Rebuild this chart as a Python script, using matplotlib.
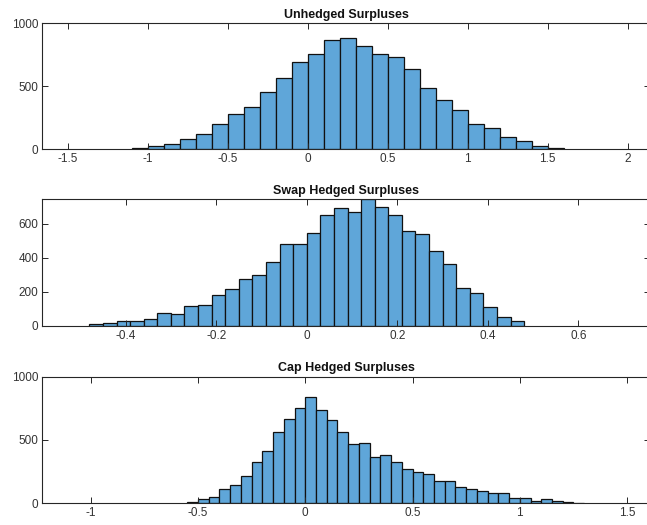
import numpy as np
import matplotlib
matplotlib.use("Agg")
import matplotlib.pyplot as plt
from matplotlib.ticker import FormatStrFormatter

plt.rcParams["font.family"] = ["Liberation Sans", "DejaVu Sans"]
plt.rcParams["axes.unicode_minus"] = False

# bin counts per panel (regular bins, first edge + width)
unhedged_start, unhedged_width = -1.1, 0.1
unhedged_counts = [11, 26, 42, 79, 119, 198, 283, 333, 455, 566, 693, 757, 865, 884,
                   817, 757, 730, 635, 489, 389, 312, 198, 172, 95, 64, 30, 8]

swap_start, swap_width = -0.48, 0.03
swap_counts = [8, 16, 28, 28, 37, 73, 69, 116, 124, 181, 216, 275, 299, 375, 484, 484,
               549, 651, 696, 671, 745, 702, 651, 559, 539, 440, 364, 224, 191, 108, 49, 28]

cap_start, cap_width = -0.55, 0.05
cap_counts = [8, 34, 50, 110, 145, 213, 323, 416, 563, 665, 752, 839, 734, 655, 563, 471,
              479, 366, 379, 323, 274, 247, 229, 179, 179, 129, 110, 95, 84, 84, 42, 42,
              18, 34, 16, 8, 6]

titles = ["Unhedged Surpluses", "Swap Hedged Surpluses", "Cap Hedged Surpluses"]
x_limits = [(-1.659, 2.139), (-0.584, 0.758), (-1.226, 1.607)]
y_limits = [(0, 1000), (0, 745), (0, 1000)]
x_ticks = [[-1.5, -1, -0.5, 0, 0.5, 1, 1.5, 2],
           [-0.4, -0.2, 0, 0.2, 0.4, 0.6],
           [-1, -0.5, 0, 0.5, 1, 1.5]]
y_ticks = [[0, 500, 1000], [0, 200, 400, 600], [0, 500, 1000]]

W, H = 647, 525
# axes boxes in pixels: left, top, right, bottom (right side runs off the canvas)
boxes = [(42.3, 23.3, 650, 149.3), (42.3, 199.3, 650, 325.7), (42.3, 376.7, 650, 503.3)]

face = "#5fa6d9"
ink = "#262626"

fig = plt.figure(figsize=(W / 100, H / 100), dpi=100)
fig.patch.set_facecolor("white")

series = [(unhedged_start, unhedged_width, unhedged_counts),
          (swap_start, swap_width, swap_counts),
          (cap_start, cap_width, cap_counts)]

for i, (start, width, counts) in enumerate(series):
    l, t, r, b = boxes[i]
    ax = fig.add_axes([l / W, 1 - b / H, (r - l) / W, (b - t) / H])
    counts = np.asarray(counts, dtype=float)
    edges = start + width * np.arange(len(counts) + 1)
    ax.bar(edges[:-1], counts, width=np.diff(edges), align="edge",
           color=face, edgecolor="#111111", linewidth=0.9)
    ax.set_xlim(*x_limits[i])
    ax.set_ylim(*y_limits[i])
    ax.set_xticks(x_ticks[i])
    ax.set_yticks(y_ticks[i])
    ax.xaxis.set_major_formatter(FormatStrFormatter("%g"))
    ax.tick_params(direction="in", length=4, width=0.7, colors=ink,
                   labelsize=8.5, labelcolor="#333333", top=True, right=True, pad=3)
    for sp in ax.spines.values():
        sp.set_color(ink)
        sp.set_linewidth(0.8)
    ax.set_title(titles[i], fontsize=9, fontweight="bold", color="#111111", pad=4)

fig.savefig("out.png", dpi=100, facecolor="white")
